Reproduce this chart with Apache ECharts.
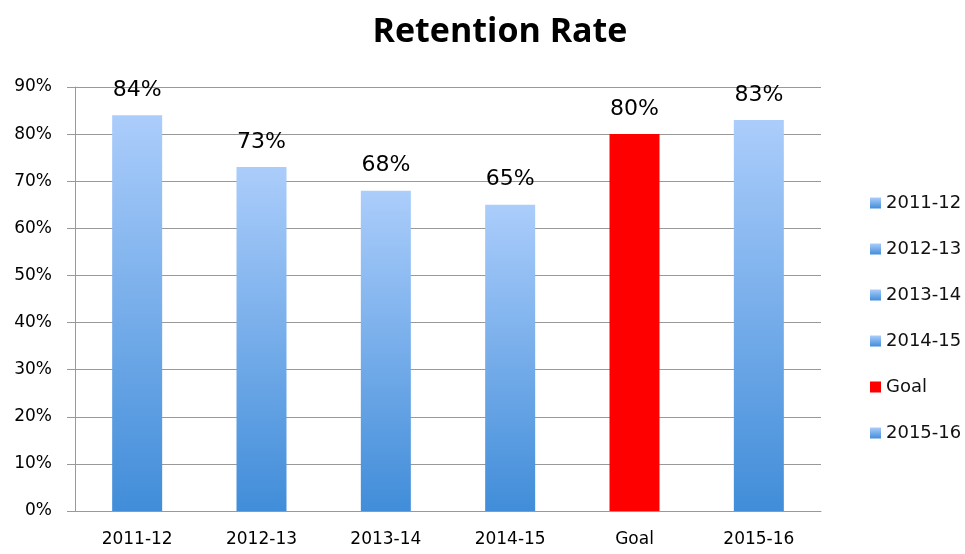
<!DOCTYPE html>
<html>
<head>
<meta charset="utf-8">
<script src="https://cdn.jsdelivr.net/npm/echarts@6/dist/echarts.min.js"></script>
<style>
  html, body { margin: 0; padding: 0; background: #fff; }
  #chart { width: 965px; height: 554px; }
</style>
</head>
<body>
<div id="chart"></div>
<script>
const categories = ['2011-12', '2012-13', '2013-14', '2014-15', 'Goal', '2015-16'];
const values = [84, 73, 68, 65, 80, 83];
const yTicks = [0, 10, 20, 30, 40, 50, 60, 70, 80, 90];

const blue = new echarts.graphic.LinearGradient(0, 0, 0, 1, [
    { offset: 0, color: '#abcdfb' },
    { offset: 1, color: '#418dd9' }
]);

const series = categories.map((name, i) => ({
    name: name,
    type: 'bar',
    stack: 'all',
    barWidth: 50,
    data: categories.map((c, j) => (j === i ? values[i] : '-')),
    itemStyle: { color: name === 'Goal' ? '#ff0000' : blue },
    label: {
        show: true,
        position: 'top',
        distance: 14,
        formatter: '{c}%',
        color: '#000',
        fontFamily: 'DejaVu Sans',
        fontSize: 22
    }
}));

const chart = echarts.init(document.getElementById('chart'));
chart.setOption({
    animation: false,
    title: {
        text: 'Retention Rate',
        left: 495,
        textAlign: 'center',
        top: 10,
        textStyle: { fontFamily: 'Open Sans', fontWeight: 'bold', fontSize: 34, color: '#000' }
    },
    legend: {
        orient: 'vertical',
        left: 865,
        top: 189,
        icon: 'rect',
        itemWidth: 11,
        itemHeight: 11,
        itemGap: 28,
        data: categories,
        textStyle: { fontFamily: 'DejaVu Sans', fontSize: 18, color: '#111' }
    },
    grid: { left: 75, right: 144, top: 87, bottom: 43 },
    xAxis: {
        type: 'category',
        data: categories,
        axisLine: { lineStyle: { color: '#999' } },
        axisTick: { length: 5, lineStyle: { color: '#999' } },
        axisLabel: { margin: 20, color: '#000', fontFamily: 'DejaVu Sans', fontSize: 17 }
    },
    yAxis: {
        type: 'value',
        min: yTicks[0],
        max: yTicks[yTicks.length - 1],
        interval: 10,
        axisLine: { show: true, lineStyle: { color: '#999' } },
        axisTick: { show: true, length: 8, lineStyle: { color: '#999' } },
        splitLine: { lineStyle: { color: '#999' } },
        axisLabel: { formatter: '{value}%', margin: 23, color: '#000', fontFamily: 'DejaVu Sans', fontSize: 17 }
    },
    series: series
});
</script>
</body>
</html>
